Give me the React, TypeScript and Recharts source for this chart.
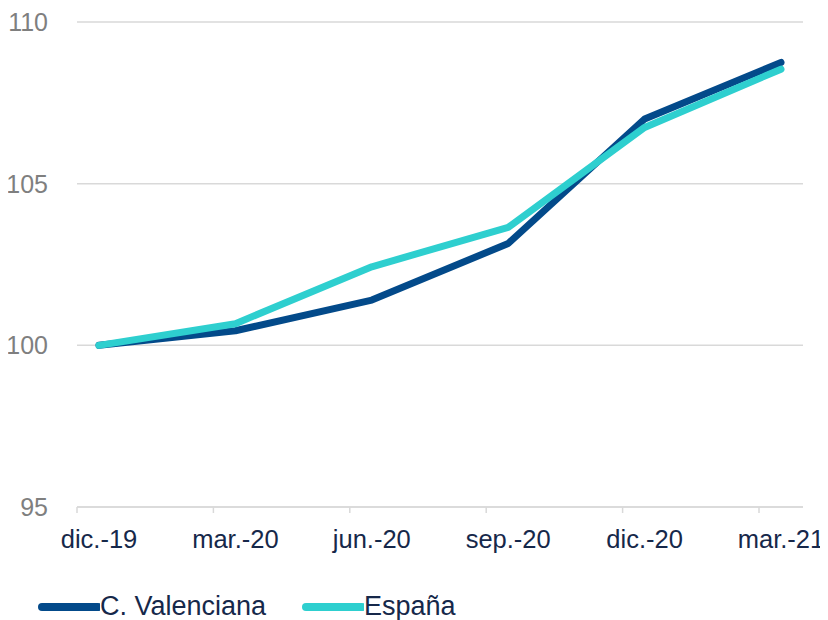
import { LineChart, Line, XAxis, YAxis, CartesianGrid, Legend } from "recharts";

const periods = ["dic.-19", "mar.-20", "jun.-20", "sep.-20", "dic.-20", "mar.-21"];
const valenciana = [100, 100.45, 101.4, 103.15, 107.0, 108.75];
const espana = [100, 100.67, 102.43, 103.65, 106.74, 108.54];
const yTicks = [95, 100, 105, 110];

const seriesInfo = [
    { key: "valenciana", name: "C. Valenciana", color: "#034a8a" },
    { key: "espana", name: "España", color: "#2ecfcf" },
];

const data = periods.map((p, i) => ({
    period: p,
    valenciana: valenciana[i],
    espana: espana[i],
}));

const FONT = "'Liberation Sans', Arial, sans-serif";

const XTick = ({ x, y, payload }: any) => {
    return (
        <g>
            <line x1={x - 22} x2={x - 22} y1={y - 8} y2={y - 2} stroke="#d9d9d9" strokeWidth={1.5} />
            <text x={x} y={y + 33} textAnchor="middle" fontSize={25.5} fill="#16284a" fontFamily={FONT}>
                {payload.value}
            </text>
        </g>
    );
};

const renderLegend = () => {
    const offsets = [38, 302];
    return (
        <div style={{ position: "relative", height: 30, width: 828 }}>
            {seriesInfo.map((s, i) => (
                <div
                    key={s.key}
                    style={{
                        position: "absolute",
                        left: offsets[i],
                        top: 1,
                        display: "flex",
                        alignItems: "center",
                        fontFamily: FONT,
                        fontSize: 27,
                        color: "#16284a",
                        whiteSpace: "nowrap",
                    }}
                >
                    <svg width={62} height={12}>
                        <line x1={4} x2={60} y1={6} y2={6} stroke={s.color} strokeWidth={8} strokeLinecap="round" />
                    </svg>
                    <span>{s.name}</span>
                </div>
            ))}
        </div>
    );
};

export default function App() {
    return (
        <div style={{ margin: "-8px 0 0 -8px", width: 828, height: 620, background: "#fff" }}>
            <LineChart width={828} height={620} data={data} margin={{ top: 22, right: 25, left: 0, bottom: 0 }} style={{ overflow: "visible" }}>
                <CartesianGrid vertical={false} stroke="#d9d9d9" strokeWidth={1.5} />
                <XAxis
                    dataKey="period"
                    padding={{ left: 22, right: 22 }}
                    axisLine={{ stroke: "#d9d9d9", strokeWidth: 1.5 }}
                    tickLine={false}
                    tick={<XTick />}
                    height={83}
                    interval={0}
                />
                <YAxis
                    domain={[95, 110]}
                    ticks={yTicks}
                    width={77}
                    axisLine={false}
                    tickLine={false}
                    tickMargin={23}
                    tick={{ fontSize: 25, fill: "#7f7f7f", fontFamily: FONT }}
                />
                <Legend verticalAlign="bottom" height={30} content={renderLegend} wrapperStyle={{ left: 0, width: 828 }} />
                {seriesInfo.map((s) => (
                    <Line
                        key={s.key}
                        type="linear"
                        dataKey={s.key}
                        name={s.name}
                        stroke={s.color}
                        strokeWidth={7}
                        strokeLinecap="round"
                        strokeLinejoin="round"
                        dot={false}
                        activeDot={false}
                        isAnimationActive={false}
                    />
                ))}
            </LineChart>
        </div>
    );
}
